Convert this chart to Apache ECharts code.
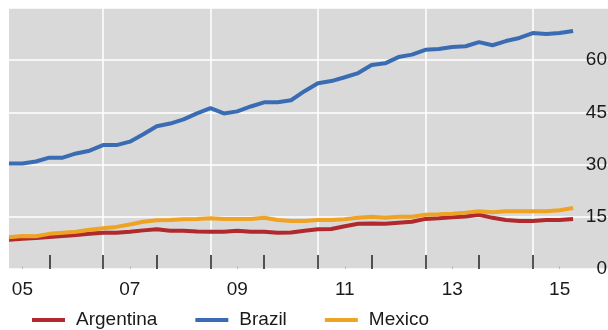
<!DOCTYPE html>
<html>
<head>
<meta charset="UTF-8">
<title>Argentina, Brazil, Mexico</title>
<script src="https://cdn.jsdelivr.net/npm/echarts@6/dist/echarts.min.js"></script>
<style>
    html,body{margin:0;padding:0;background:#fff;}
    #chart{width:608px;height:330px;}
</style>
</head>
<body>
<div id="chart"></div>
<script>
    // quarterly observations, 2005 Q2 .. 2015 Q4
    let quarters = [
        '2005Q2','2005Q3','2005Q4',
        '2006Q1','2006Q2','2006Q3','2006Q4',
        '2007Q1','2007Q2','2007Q3','2007Q4',
        '2008Q1','2008Q2','2008Q3','2008Q4',
        '2009Q1','2009Q2','2009Q3','2009Q4',
        '2010Q1','2010Q2','2010Q3','2010Q4',
        '2011Q1','2011Q2','2011Q3','2011Q4',
        '2012Q1','2012Q2','2012Q3','2012Q4',
        '2013Q1','2013Q2','2013Q3','2013Q4',
        '2014Q1','2014Q2','2014Q3','2014Q4',
        '2015Q1','2015Q2','2015Q3','2015Q4'
    ];
    let argentina = [8.4,8.7,8.9,9.2,9.5,9.8,10.1,10.4,10.4,10.7,11.1,11.4,11.0,11.0,10.8,10.7,10.7,11.0,10.7,10.7,10.4,10.5,11.0,11.4,11.5,12.3,13.0,13.1,13.0,13.3,13.6,14.4,14.6,14.9,15.1,15.6,14.7,14.1,13.8,13.8,14.1,14.1,14.4];
    let brazil = [30.3,30.3,30.9,32.0,32.0,33.2,34.0,35.6,35.6,36.6,38.7,41.0,41.8,43.0,44.7,46.2,44.7,45.3,46.7,47.9,47.9,48.5,51.1,53.4,54.0,55.1,56.3,58.6,59.1,60.9,61.6,63.0,63.2,63.8,64.0,65.2,64.3,65.5,66.4,67.8,67.5,67.8,68.4];
    let mexico = [9.1,9.5,9.4,10.1,10.4,10.7,11.3,11.7,12.1,12.8,13.6,14.0,14.1,14.3,14.4,14.6,14.4,14.4,14.4,14.7,14.1,13.8,13.8,14.1,14.1,14.3,14.7,15.0,14.7,15.0,15.0,15.6,15.7,15.9,16.2,16.6,16.3,16.6,16.6,16.6,16.6,16.9,17.5];

    let yearTicks = [2006,2007,2008,2009,2010,2011,2012,2013,2014,2015];
    let labelYears = [2005.5,2007.5,2009.5,2011.5,2013.5,2015.5];
    let labelText = ['05','07','09','11','13','15'];
    let gridYears = [2007,2009,2011,2013,2015];

    let xMin = 2005.25, xMax = 2016.4;
    let font = '"Liberation Sans", Arial, sans-serif';

    function toYear(q) {
        return Number(q.slice(0, 4)) + (Number(q.slice(5)) - 1) / 4;
    }
    function pairs(values) {
        return quarters.map(function (q, i) { return [toYear(q), values[i]]; });
    }

    let myChart = echarts.init(document.getElementById('chart'), null, {renderer: 'canvas'});
    let option = {
        animation: false,
        backgroundColor: '#ffffff',
        textStyle: {fontFamily: font},
        grid: {
            left: 9, right: 0, top: 8, bottom: 61,
            containLabel: false,
            outerBoundsMode: 'none',
            show: true,
            backgroundColor: '#d9d9d9',
            borderWidth: 0
        },
        legend: {
            left: 32,
            top: 309,
            padding: 0,
            itemWidth: 33,
            itemHeight: 4,
            itemGap: 38,
            icon: 'rect',
            textStyle: {fontFamily: font, fontSize: 19, color: '#1a1a1a', lineHeight: 22, padding: [0, 0, 0, 6]},
            data: ['Argentina', 'Brazil', 'Mexico']
        },
        xAxis: [
            {
                type: 'value', min: xMin, max: xMax,
                position: 'bottom', z: 5,
                axisLine: {show: false},
                splitLine: {show: false},
                axisLabel: {show: false},
                axisTick: {
                    show: true, inside: true, length: 14,
                    customValues: yearTicks,
                    lineStyle: {color: '#222', width: 1.5}
                }
            },
            {
                type: 'value', min: xMin, max: xMax,
                position: 'bottom', z: 5,
                axisLine: {show: false},
                splitLine: {show: false},
                axisTick: {
                    show: true, inside: true, length: 3,
                    customValues: labelYears,
                    lineStyle: {color: '#bcbcbc', width: 1}
                },
                axisLabel: {
                    customValues: labelYears,
                    margin: 11,
                    fontFamily: font, fontSize: 19, color: '#1a1a1a',
                    formatter: function (v) {
                        let i = labelYears.indexOf(v);
                        return i >= 0 ? labelText[i] : '';
                    }
                }
            }
        ],
        yAxis: {
            type: 'value', position: 'right',
            min: 0, max: 75, interval: 15,
            axisLine: {show: false},
            axisTick: {show: false},
            splitLine: {lineStyle: {color: '#ffffff', width: 1.5}},
            axisLabel: {
                inside: true, margin: 1, showMaxLabel: false,
                fontFamily: font, fontSize: 19, color: '#1a1a1a',
                padding: [0, 0, 24, 0]
            }
        },
        series: [
            {
                name: 'Argentina', type: 'line', xAxisIndex: 0,
                showSymbol: false, color: '#b0292d',
                lineStyle: {width: 4, color: '#b0292d'},
                data: pairs(argentina)
            },
            {
                name: 'Brazil', type: 'line', xAxisIndex: 0,
                showSymbol: false, color: '#3a6cb3',
                lineStyle: {width: 4, color: '#3a6cb3'},
                data: pairs(brazil)
            },
            {
                name: 'Mexico', type: 'line', xAxisIndex: 0,
                showSymbol: false, color: '#eea325',
                lineStyle: {width: 4, color: '#eea325'},
                data: pairs(mexico),
                markLine: {
                    silent: true, z: 1, symbol: 'none',
                    label: {show: false},
                    lineStyle: {color: '#ffffff', width: 1.5, type: 'solid'},
                    data: gridYears.map(function (y) { return {xAxis: y}; })
                }
            }
        ]
    };
    myChart.setOption(option);
</script>
</body>
</html>
